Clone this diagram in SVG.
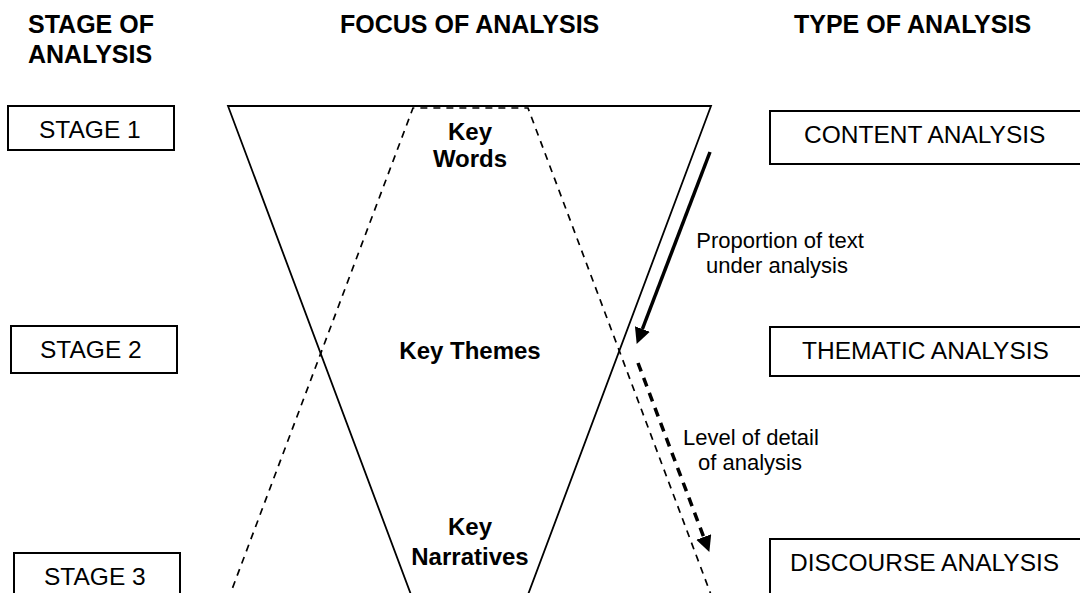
<svg xmlns="http://www.w3.org/2000/svg" width="1080" height="593" viewBox="0 0 1080 593">
<style>
.hdr{font-family:"Liberation Sans",Arial,sans-serif;font-weight:bold;font-size:25px;fill:#000}
.key{font-family:"Liberation Sans",Arial,sans-serif;font-weight:bold;font-size:24px;fill:#000;text-anchor:middle}
.box{fill:#fff;stroke:#000;stroke-width:2}
.bt{font-family:"Liberation Sans",Arial,sans-serif;font-size:24.5px;fill:#000}
.lbl{font-family:"Liberation Sans",Arial,sans-serif;font-size:22px;fill:#000;text-anchor:middle}
.solid{stroke:#000;stroke-width:1.8;fill:none}
.dash{stroke:#000;stroke-width:1.7;fill:none;stroke-dasharray:7 6}
</style>
<defs>
<marker id="head" viewBox="0 0 10 10" markerUnits="userSpaceOnUse" markerWidth="16" markerHeight="16" refX="0" refY="5" orient="auto">
<path d="M0,0 L10,5 L0,10 z" fill="#000"/>
</marker>
</defs>
<rect width="1080" height="593" fill="#fff"/>
<g id="headers">
<text class="hdr" x="28" y="33">STAGE OF</text>
<text class="hdr" x="28" y="63">ANALYSIS</text>
<text class="hdr" x="340" y="33">FOCUS OF ANALYSIS</text>
<text class="hdr" x="794" y="33">TYPE OF ANALYSIS</text>
</g>
<g id="funnel">
<polyline class="solid" points="413,600 228,106 711,106 526,600"/>
<polyline class="dash" points="228,600 413,108 528,108 713,600"/>
</g>
<g id="stage1"><rect class="box" x="8" y="106" width="166" height="44"/><text class="bt" x="39" y="138">STAGE 1</text></g>
<g id="stage2"><rect class="box" x="11" y="326" width="166" height="47"/><text class="bt" x="40" y="358">STAGE 2</text></g>
<g id="stage3"><rect class="box" x="14" y="553" width="166" height="50"/><text class="bt" x="44" y="585">STAGE 3</text></g>
<g id="keywords"><text class="key" x="470" y="140">Key</text><text class="key" x="470" y="167">Words</text></g>
<g id="keythemes"><text class="key" x="470" y="359">Key Themes</text></g>
<g id="keynarratives"><text class="key" x="470" y="535">Key</text><text class="key" x="470" y="565">Narratives</text></g>
<g id="content"><rect class="box" x="770" y="111" width="320" height="53"/><text class="bt" x="804" y="143">CONTENT ANALYSIS</text></g>
<g id="thematic"><rect class="box" x="770" y="327" width="320" height="49"/><text class="bt" x="802" y="359">THEMATIC ANALYSIS</text></g>
<g id="discourse"><rect class="box" x="770" y="539" width="320" height="60"/><text class="bt" x="790" y="571">DISCOURSE ANALYSIS</text></g>
<g id="connectors">
<line x1="710" y1="152" x2="642.4" y2="329" stroke="#000" stroke-width="3.5" marker-end="url(#head)"/>
<line x1="638" y1="363" x2="703.7" y2="537" stroke="#000" stroke-width="3.5" stroke-dasharray="9 7" marker-end="url(#head)"/>
</g>
<g id="labels">
<text class="lbl" x="780" y="248">Proportion of text</text>
<text class="lbl" x="777" y="273">under analysis</text>
<text class="lbl" x="751" y="445">Level of detail</text>
<text class="lbl" x="750" y="470">of analysis</text>
</g>
</svg>
